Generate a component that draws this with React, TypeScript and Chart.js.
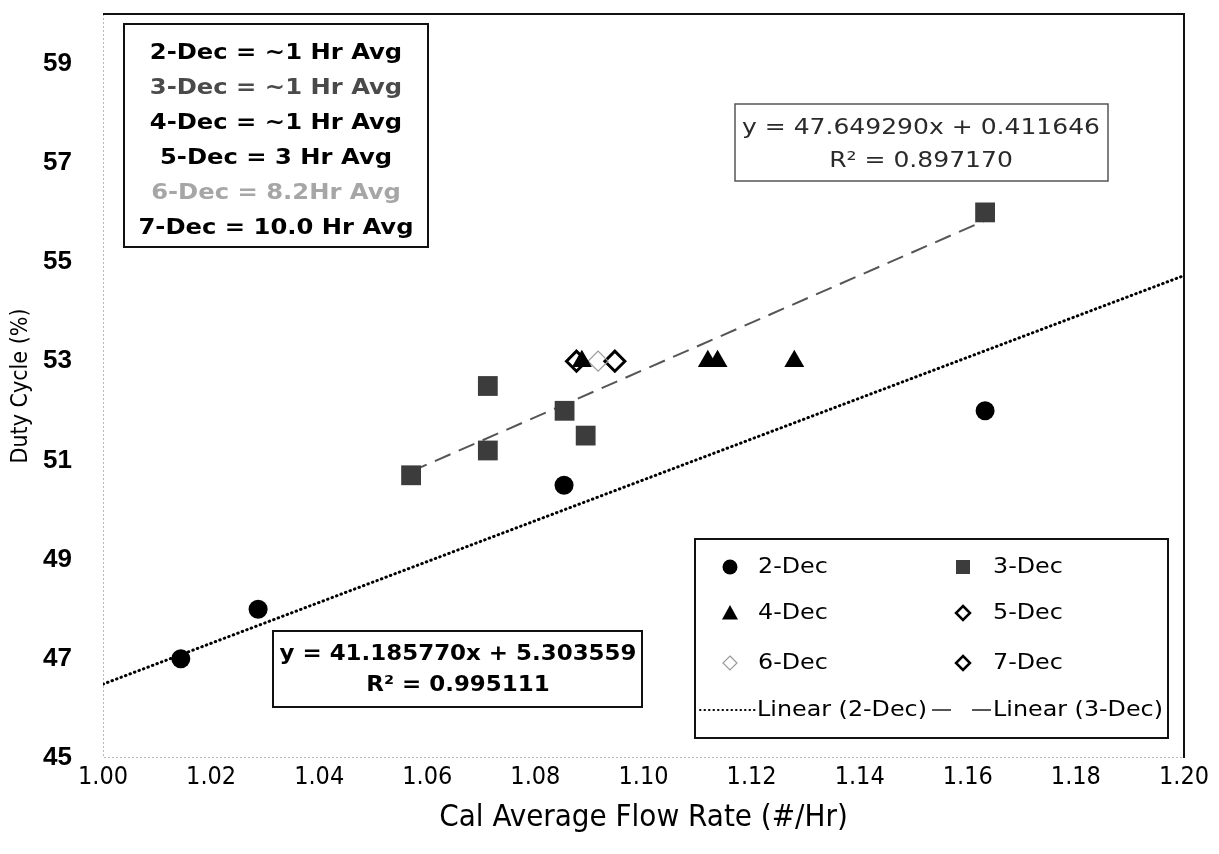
import React, { useEffect, useRef } from "react";
import { Chart, registerables } from "chart.js";

Chart.register(...registerables);

// ---------- data ----------
const xMin = 1.0;
const xMax = 1.2;
const xStep = 0.02;
const yMin = 45;
const yMax = 60;
const yTickValues = [45, 47, 49, 51, 53, 55, 57, 59];

const dec2X = [1.0144, 1.0287, 1.0853, 1.1632];
const dec2Y = [47.0, 48.0, 50.5, 52.0];

const dec3X = [1.057, 1.0712, 1.0712, 1.0854, 1.0893, 1.1632];
const dec3Y = [50.7, 51.2, 52.5, 52.0, 51.5, 56.0];

const dec4X = [1.0886, 1.1119, 1.1137, 1.1279];
const dec4Y = [53.0, 53.0, 53.0, 53.0];

const dec5X = [1.0876];
const dec5Y = [53.0];

const dec6X = [1.0916];
const dec6Y = [53.0];

const dec7X = [1.0947];
const dec7Y = [53.0];

const fit2Slope = 41.18577;
const fit2Intercept = 5.303559;
const fit2R2 = 0.995111;

const fit3Slope = 47.64929;
const fit3Intercept = 0.411646;
const fit3R2 = 0.89717;

const seriesLabels = ["2-Dec", "3-Dec", "4-Dec", "5-Dec", "6-Dec", "7-Dec"];
const trendLabels = ["Linear (2-Dec)", "Linear (3-Dec)"];

const infoLines = [
  "2-Dec = ~1 Hr Avg",
  "3-Dec = ~1 Hr Avg",
  "4-Dec = ~1 Hr Avg",
  "5-Dec = 3 Hr Avg",
  "6-Dec = 8.2Hr Avg",
  "7-Dec = 10.0 Hr Avg",
];

const xTitle = "Cal Average Flow Rate (#/Hr)";
const yTitle = "Duty Cycle (%)";

// ---------- styles ----------
const COMIC = "'DejaVu Sans', 'Open Sans', sans-serif";
const NARROW = "'Liberation Sans Narrow', 'DejaVu Sans Condensed', 'Open Sans', sans-serif";
const ARIAL = "'Liberation Sans', Arial, sans-serif";
const SQUARE_GRAY = "#3c3c3c";
const infoColors = ["#000", "#4a4a4a", "#000", "#000", "#a6a6a6", "#000"];

const pts = (xs: number[], ys: number[]) => xs.map((x, i) => ({ x, y: ys[i] }));
const linePts = (slope: number, icpt: number, a: number, b: number) => [
  { x: a, y: slope * a + icpt },
  { x: b, y: slope * b + icpt },
];

// draw text horizontally scaled by sx
function fillTextS(ctx: CanvasRenderingContext2D, t: string, x: number, y: number, sx: number) {
  ctx.save();
  ctx.translate(x, y);
  ctx.scale(sx, 1);
  ctx.fillText(t, 0, 0);
  ctx.restore();
}
// scale factor so that text t is w px wide
function factor(ctx: CanvasRenderingContext2D, t: string, w: number) {
  return w / ctx.measureText(t).width;
}

function drawMarker(ctx: CanvasRenderingContext2D, kind: string, x: number, y: number, s: number) {
  ctx.save();
  ctx.setLineDash([]);
  if (kind === "circle") {
    ctx.fillStyle = "#000";
    ctx.beginPath();
    ctx.arc(x, y, s, 0, Math.PI * 2);
    ctx.fill();
  } else if (kind === "square") {
    ctx.fillStyle = SQUARE_GRAY;
    ctx.fillRect(x - s, y - s, 2 * s, 2 * s);
  } else if (kind === "triangle") {
    ctx.fillStyle = "#000";
    ctx.beginPath();
    ctx.moveTo(x, y - s);
    ctx.lineTo(x + s, y + s * 0.8);
    ctx.lineTo(x - s, y + s * 0.8);
    ctx.closePath();
    ctx.fill();
  } else if (kind === "diamond" || kind === "diamondGray") {
    ctx.strokeStyle = kind === "diamond" ? "#000" : "#9a9a9a";
    ctx.lineWidth = kind === "diamond" ? 2.5 : 1.2;
    ctx.beginPath();
    ctx.moveTo(x, y - s);
    ctx.lineTo(x + s, y);
    ctx.lineTo(x, y + s);
    ctx.lineTo(x - s, y);
    ctx.closePath();
    ctx.stroke();
  }
  ctx.restore();
}

function box(ctx: CanvasRenderingContext2D, x0: number, y0: number, x1: number, y1: number, color: string, lw: number) {
  ctx.save();
  ctx.fillStyle = "#fff";
  ctx.fillRect(x0, y0, x1 - x0, y1 - y0);
  ctx.strokeStyle = color;
  ctx.lineWidth = lw;
  ctx.setLineDash([]);
  ctx.strokeRect(x0, y0, x1 - x0, y1 - y0);
  ctx.restore();
}

const framePlugin = {
  id: "frame",
  beforeDatasetsDraw(chart: any) {
    const { ctx, chartArea: a } = chart;
    ctx.save();
    ctx.strokeStyle = "#b8b8b8";
    ctx.lineWidth = 1;
    ctx.setLineDash([2, 2]);
    ctx.beginPath();
    ctx.moveTo(a.left + 0.5, a.top);
    ctx.lineTo(a.left + 0.5, a.bottom - 0.5);
    ctx.lineTo(a.right, a.bottom - 0.5);
    ctx.stroke();
    ctx.setLineDash([]);
    ctx.strokeStyle = "#111";
    ctx.lineWidth = 2;
    ctx.beginPath();
    ctx.moveTo(a.left, a.top);
    ctx.lineTo(a.right, a.top);
    ctx.lineTo(a.right, a.bottom);
    ctx.stroke();
    ctx.restore();
  },
  afterDatasetsDraw(chart: any) {
    const ctx: CanvasRenderingContext2D = chart.ctx;
    ctx.save();
    ctx.textAlign = "center";
    ctx.textBaseline = "middle";

    // info box
    box(ctx, 124, 24, 428, 247, "#111", 2);
    ctx.font = `bold 21px ${COMIC}`;
    const f1 = factor(ctx, infoLines[5], 275);
    infoLines.forEach((t, i) => {
      ctx.fillStyle = infoColors[i];
      fillTextS(ctx, t, 276, 54 + i * 35, f1);
    });

    // 3-Dec equation box
    box(ctx, 735, 104, 1108, 181, "#555", 1.5);
    ctx.font = `21px ${COMIC}`;
    ctx.fillStyle = "#2a2a2a";
    const e3a = `y = ${fit3Slope.toFixed(6)}x + ${fit3Intercept.toFixed(6)}`;
    const f2 = factor(ctx, e3a, 358);
    fillTextS(ctx, e3a, 921, 129, f2);
    fillTextS(ctx, `R² = ${fit3R2.toFixed(6)}`, 921, 162, f2);

    // 2-Dec equation box
    box(ctx, 273, 631, 642, 707, "#111", 2);
    ctx.font = `bold 21px ${COMIC}`;
    ctx.fillStyle = "#000";
    const e2a = `y = ${fit2Slope.toFixed(6)}x + ${fit2Intercept.toFixed(6)}`;
    const f3 = factor(ctx, e2a, 357);
    fillTextS(ctx, e2a, 458, 655, f3);
    fillTextS(ctx, `R² = ${fit2R2.toFixed(6)}`, 458, 686, f3);

    // legend
    box(ctx, 695, 539, 1168, 738, "#111", 2);
    ctx.textAlign = "left";
    ctx.font = `21px ${COMIC}`;
    ctx.fillStyle = "#000";
    const f4 = factor(ctx, trendLabels[0], 170);
    const kinds = ["circle", "square", "triangle", "diamond", "diamondGray", "diamond"];
    const sizes = [7.5, 7, 8, 7, 7, 7];
    const rowsY = [567, 613, 663];
    seriesLabels.forEach((lab, i) => {
      const col = i % 2;
      const row = Math.floor(i / 2);
      const mx = col === 0 ? 730 : 963;
      const tx = col === 0 ? 758 : 993;
      drawMarker(ctx, kinds[i], mx, rowsY[row], sizes[i]);
      ctx.fillStyle = "#000";
      fillTextS(ctx, lab, tx, rowsY[row] + 1, f4);
    });
    const ly = 710;
    ctx.save();
    ctx.strokeStyle = "#000";
    ctx.lineWidth = 2;
    ctx.lineCap = "round";
    ctx.setLineDash([0.5, 4]);
    ctx.beginPath();
    ctx.moveTo(700, ly);
    ctx.lineTo(755, ly);
    ctx.stroke();
    ctx.lineCap = "butt";
    ctx.strokeStyle = "#555";
    ctx.setLineDash([19, 21]);
    ctx.beginPath();
    ctx.moveTo(932, ly);
    ctx.lineTo(991, ly);
    ctx.stroke();
    ctx.restore();
    ctx.fillStyle = "#000";
    fillTextS(ctx, trendLabels[0], 757, ly + 1, f4);
    fillTextS(ctx, trendLabels[1], 993, ly + 1, f4);

    ctx.restore();
  },
};

export default function App() {
  const ref = useRef<HTMLCanvasElement | null>(null);

  useEffect(() => {
    if (!ref.current) return;
    const minX3 = Math.min(...dec3X);
    const maxX3 = Math.max(...dec3X);
    const chart = new Chart(ref.current, {
      type: "scatter",
      data: {
        datasets: [
          {
            label: trendLabels[0],
            data: linePts(fit2Slope, fit2Intercept, xMin, xMax),
            showLine: true,
            borderColor: "#000",
            borderWidth: 3,
            borderDash: [0.5, 4.3],
            borderCapStyle: "round",
            pointRadius: 0,
            order: 10,
          } as any,
          {
            label: trendLabels[1],
            data: linePts(fit3Slope, fit3Intercept, minX3, maxX3),
            showLine: true,
            borderColor: "#555",
            borderWidth: 2,
            borderDash: [17, 9],
            pointRadius: 0,
            order: 9,
          } as any,
          {
            label: seriesLabels[0],
            data: pts(dec2X, dec2Y),
            pointStyle: "circle",
            pointRadius: 9.5,
            backgroundColor: "#000",
            borderColor: "#000",
            borderWidth: 0,
            order: 1,
          },
          {
            label: seriesLabels[1],
            data: pts(dec3X, dec3Y),
            pointStyle: "rect",
            pointRadius: 14,
            backgroundColor: SQUARE_GRAY,
            borderColor: SQUARE_GRAY,
            borderWidth: 0,
            order: 2,
          },
          {
            label: seriesLabels[2],
            data: pts(dec4X, dec4Y),
            pointStyle: "triangle",
            pointRadius: 11.5,
            backgroundColor: "#000",
            borderColor: "#000",
            borderWidth: 0,
            order: 3,
          },
          {
            label: seriesLabels[3],
            data: pts(dec5X, dec5Y),
            pointStyle: "rectRot",
            pointRadius: 10,
            backgroundColor: "rgba(255,255,255,0)",
            borderColor: "#000",
            borderWidth: 3,
            order: 4,
          },
          {
            label: seriesLabels[4],
            data: pts(dec6X, dec6Y),
            pointStyle: "rectRot",
            pointRadius: 10,
            backgroundColor: "rgba(255,255,255,0)",
            borderColor: "#9a9a9a",
            borderWidth: 1.2,
            order: 5,
          },
          {
            label: seriesLabels[5],
            data: pts(dec7X, dec7Y),
            pointStyle: "rectRot",
            pointRadius: 10,
            backgroundColor: "rgba(255,255,255,0)",
            borderColor: "#000",
            borderWidth: 3,
            order: 6,
          },
        ],
      },
      options: {
        responsive: false,
        animation: false,
        devicePixelRatio: 1,
        layout: { padding: { top: 6, right: 35, left: 0, bottom: 0 } },
        plugins: {
          legend: { display: false },
          tooltip: { enabled: false },
          title: { display: false },
        },
        scales: {
          x: {
            type: "linear",
            min: xMin,
            max: xMax,
            grid: { display: false, drawTicks: false },
            border: { display: false },
            ticks: {
              stepSize: xStep,
              padding: 4,
              color: "#000",
              font: { family: NARROW, size: 25 },
              callback: (v: any) => Number(v).toFixed(2),
            },
            title: {
              display: true,
              text: xTitle,
              color: "#000",
              font: { family: NARROW, size: 31 },
              padding: { top: 0, bottom: 17 },
            },
            afterFit: (s: any) => {
              s.height = 96;
              s.paddingLeft = 0;
              s.paddingRight = 0;
            },
          },
          y: {
            type: "linear",
            min: yMin,
            max: yMax,
            grid: { display: false, drawTicks: false },
            border: { display: false },
            afterBuildTicks: (s: any) => {
              s.ticks = yTickValues.map((v) => ({ value: v }));
            },
            ticks: {
              padding: 31,
              color: "#000",
              font: { family: ARIAL, size: 26, weight: "bold" },
            },
            title: {
              display: true,
              text: yTitle,
              color: "#000",
              font: { family: NARROW, size: 23 },
              padding: { top: 7, bottom: 0 },
            },
            afterFit: (s: any) => {
              s.width = 103;
              s.paddingTop = 0;
              s.paddingBottom = 0;
            },
          },
        },
      },
      plugins: [framePlugin],
    });
    return () => chart.destroy();
  }, []);

  return (
    <div style={{ position: "absolute", left: 0, top: 0, width: 1219, height: 854, background: "#fff" }}>
      <canvas ref={ref} width={1219} height={854} />
    </div>
  );
}
